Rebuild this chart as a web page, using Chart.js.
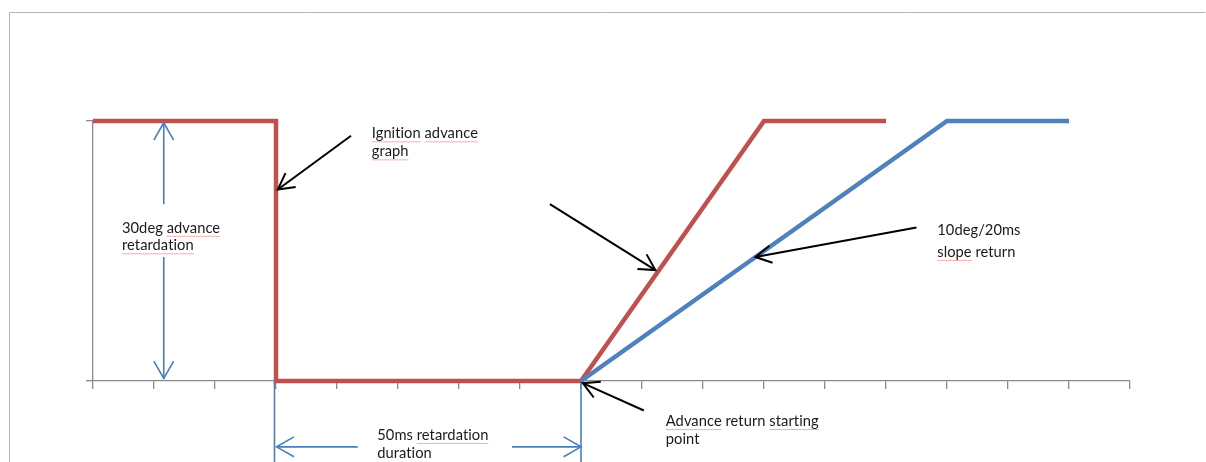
<!DOCTYPE html>
<html>
<head>
<meta charset="utf-8">
<script src="https://cdn.jsdelivr.net/npm/chart.js@4/dist/chart.umd.min.js"></script>
<style>
  html, body { margin: 0; padding: 0; background: #fff; }
  canvas { display: block; }
</style>
</head>
<body>
<canvas id="chart" width="1206" height="462"></canvas>
<script>
// Ignition advance profile (time in ms, advance in degrees)
const advanceTimeMs = [0, 30, 30, 80, 110, 130];
const advanceDeg    = [30, 30, 0, 0, 30, 30];

// Slope-limited return (10deg / 20ms)
const slopeTimeMs = [80, 140, 160];
const slopeDeg    = [0, 30, 30];

// Axis ranges
const timeRange = [0, 170];
const timeStep = 10;
const degRange = [0, 30];
const degStep = 30;

// Callout arrows: [tailX, tailY, tipX, tipY] in data units
const calloutArrows = [
  [42.3, 28.3, 30.3, 22.1],   // ignition advance graph
  [74.9, 20.4, 92.2, 12.8],   // steep return
  [135.0, 17.7, 108.6, 14.3], // 10deg/20ms slope
  [90.3, -3.4, 80.3, -0.25]   // return starting point
];

// Dimension lines (two-segment, arrowheads at outer ends): [x1, y1, x2, y2] per segment
const dimensionSegments = [
  [11.6, 20.4, 11.6, 29.8],
  [11.6, 14.3, 11.6, 0.3],
  [43.4, -7.6, 30.1, -7.6],
  [68.7, -7.6, 80.0, -7.6]
];
// Extension lines for the 50ms dimension: x positions
const extensionLinesX = [29.75, 80.0];

// Text notes: lines of text, left x / first baseline y in data units, line gap (px)
const notes = [
  { lines: ['Ignition advance', 'graph'], x: 45.7, y: 28.0, gap: 18, misspelt: [['Ignition', 'advance'], ['graph']] },
  { lines: ['30deg advance', 'retardation'], x: 4.75, y: 17.1, gap: 17.5, misspelt: [['advance'], ['retardation']] },
  { lines: ['50ms retardation', 'duration'], x: 46.6, y: -6.8, gap: 18, misspelt: [['retardation'], []] },
  { lines: ['Advance return starting', 'point'], x: 93.9, y: -5.2, gap: 17.5, misspelt: [['Advance', 'starting'], []] },
  { lines: ['10deg/20ms', 'slope return'], x: 138.4, y: 16.85, gap: 22, misspelt: [[], ['slope']] }
];

const toPoints = (xs, ys) => xs.map((x, i) => ({ x: x, y: ys[i] }));

const AXIS_GREY = '#8a8a8a';
const DIM_BLUE = '#4a7ebb';
const NOTE_FONT = '14.7px Lato, "Open Sans", sans-serif';

function arrowHead(ctx, x1, y1, x2, y2, len, halfAngle) {
  const a = Math.atan2(y1 - y2, x1 - x2);
  ctx.beginPath();
  ctx.moveTo(x2 + len * Math.cos(a + halfAngle), y2 + len * Math.sin(a + halfAngle));
  ctx.lineTo(x2, y2);
  ctx.lineTo(x2 + len * Math.cos(a - halfAngle), y2 + len * Math.sin(a - halfAngle));
  ctx.stroke();
}

const framePlugin = {
  id: 'frame',
  beforeDraw(chart) {
    const ctx = chart.ctx;
    ctx.save();
    ctx.fillStyle = '#ffffff';
    ctx.fillRect(0, 0, chart.width, chart.height);
    ctx.strokeStyle = '#b4b4b4';
    ctx.lineWidth = 1;
    ctx.beginPath();
    ctx.moveTo(9.5, chart.height + 5);
    ctx.lineTo(9.5, 12.5);
    ctx.lineTo(1205.5, 12.5);
    ctx.stroke();
    ctx.restore();
  }
};

const notesPlugin = {
  id: 'notes',
  afterDraw(chart) {
    const ctx = chart.ctx;
    const sx = chart.scales.x, sy = chart.scales.y;
    const px = v => sx.getPixelForValue(v);
    const py = v => sy.getPixelForValue(v);
    ctx.save();
    ctx.lineCap = 'butt';
    ctx.lineJoin = 'miter';

    // dimension extension lines
    ctx.strokeStyle = DIM_BLUE;
    ctx.lineWidth = 1.6;
    extensionLinesX.forEach(x => {
      ctx.beginPath();
      ctx.moveTo(px(x), py(0) + 1);
      ctx.lineTo(px(x), chart.height + 2);
      ctx.stroke();
    });

    // dimension arrows
    dimensionSegments.forEach(s => {
      const x1 = px(s[0]), y1 = py(s[1]), x2 = px(s[2]), y2 = py(s[3]);
      ctx.beginPath();
      ctx.moveTo(x1, y1);
      ctx.lineTo(x2, y2);
      ctx.stroke();
      arrowHead(ctx, x1, y1, x2, y2, 20, 0.52);
    });

    // callout arrows
    ctx.strokeStyle = '#000000';
    ctx.lineWidth = 2;
    calloutArrows.forEach(a => {
      const x1 = px(a[0]), y1 = py(a[1]), x2 = px(a[2]), y2 = py(a[3]);
      ctx.beginPath();
      ctx.moveTo(x1, y1);
      ctx.lineTo(x2, y2);
      ctx.stroke();
      arrowHead(ctx, x1, y1, x2, y2, 18, 0.5);
    });

    // notes (tiny letter spacing keeps "ti" as separate glyphs)
    ctx.font = NOTE_FONT;
    if ('letterSpacing' in ctx) ctx.letterSpacing = '0.05px';
    ctx.textBaseline = 'alphabetic';
    ctx.textAlign = 'left';
    notes.forEach(n => {
      const x0 = px(n.x);
      n.lines.forEach((line, i) => {
        const y = py(n.y) + i * n.gap;
        ctx.fillStyle = '#1a1a1a';
        ctx.fillText(line, x0, y);
        // proofing underline under flagged words
        (n.misspelt[i] || []).forEach(word => {
          const idx = line.indexOf(word);
          if (idx < 0) return;
          const start = x0 + ctx.measureText(line.slice(0, idx)).width;
          const w = ctx.measureText(word).width;
          ctx.strokeStyle = 'rgba(235, 110, 110, 0.55)';
          ctx.lineWidth = 1;
          ctx.beginPath();
          ctx.moveTo(start, y + 3.5);
          ctx.lineTo(start + w, y + 3.5);
          ctx.stroke();
        });
      });
    });
    ctx.restore();
  }
};

new Chart(document.getElementById('chart'), {
  type: 'line',
  data: {
    datasets: [
      {
        label: 'Ignition advance',
        data: toPoints(advanceTimeMs, advanceDeg),
        borderColor: '#c0504d',
        borderWidth: 4.5,
        borderJoinStyle: 'miter',
        borderCapStyle: 'butt',
        pointRadius: 0,
        tension: 0,
        fill: false,
        clip: false,
        order: 1
      },
      {
        label: 'Slope return',
        data: toPoints(slopeTimeMs, slopeDeg),
        borderColor: '#4f81bd',
        borderWidth: 4.5,
        borderJoinStyle: 'miter',
        borderCapStyle: 'butt',
        pointRadius: 0,
        tension: 0,
        fill: false,
        clip: false,
        order: 0
      }
    ]
  },
  options: {
    responsive: false,
    animation: false,
    events: [],
    layout: { padding: { left: 85, right: 76, top: 121, bottom: 73 } },
    plugins: {
      legend: { display: false },
      tooltip: { enabled: false },
      title: { display: false }
    },
    scales: {
      x: {
        type: 'linear',
        min: timeRange[0],
        max: timeRange[1],
        afterFit(scale) { scale.height = 8; },
        ticks: { display: false, stepSize: timeStep },
        grid: { drawOnChartArea: false, drawTicks: true, tickLength: 8, color: AXIS_GREY, lineWidth: 1.3 },
        border: { display: true, color: AXIS_GREY, width: 1.3 }
      },
      y: {
        type: 'linear',
        min: degRange[0],
        max: degRange[1],
        afterFit(scale) { scale.width = 8; },
        ticks: { display: false, stepSize: degStep },
        grid: { drawOnChartArea: false, drawTicks: true, tickLength: 7, color: AXIS_GREY, lineWidth: 1.3 },
        border: { display: true, color: AXIS_GREY, width: 1.3 }
      }
    }
  },
  plugins: [framePlugin, notesPlugin]
});
</script>
</body>
</html>
